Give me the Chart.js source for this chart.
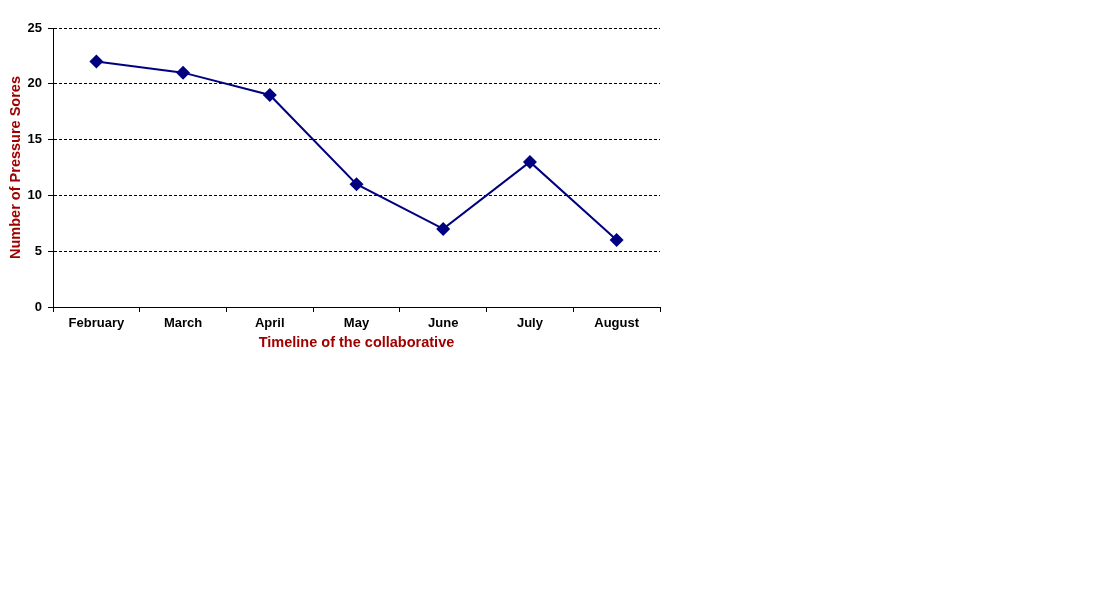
<!DOCTYPE html>
<html>
<head>
<meta charset="utf-8">
<script src="https://cdn.jsdelivr.net/npm/chart.js@4.4.0/dist/chart.umd.min.js"></script>
<style>
  html, body { margin: 0; padding: 0; background: #fff; width: 1103px; height: 609px; overflow: hidden; }
  #wrap { position: absolute; left: 0; top: 0; width: 670px; height: 356px; }
</style>
</head>
<body>
<div id="wrap"><canvas id="c"></canvas></div>
<script>
const categories = ["February", "March", "April", "May", "June", "July", "August"];
const pressureSores = [22, 21, 19, 11, 7, 13, 6];
const yTicks = [0, 5, 10, 15, 20, 25];
const xTitle = "Timeline of the collaborative";
const yTitle = "Number of Pressure Sores";

const tickFont = { family: "'Liberation Sans', Arial, sans-serif", size: 13, weight: "bold" };
const titleFont = { family: "'Liberation Sans', Arial, sans-serif", size: 14.5, weight: "bold" };
const titleColor = "#A00000";

new Chart(document.getElementById("c"), {
  type: "line",
  data: {
    labels: categories,
    datasets: [{
      data: pressureSores,
      borderColor: "#000080",
      backgroundColor: "#000080",
      borderWidth: 2,
      pointStyle: "rectRot",
      pointRadius: 7,
      pointBorderWidth: 0,
      pointBackgroundColor: "#000080",
      tension: 0,
      fill: false
    }]
  },
  options: {
    responsive: true,
    maintainAspectRatio: false,
    animation: false,
    layout: { padding: { left: 0, top: 28, right: 10, bottom: 0 } },
    plugins: { legend: { display: false }, tooltip: { enabled: false } },
    scales: {
      x: {
        type: "category",
        offset: true,
        grid: {
          offset: true,
          drawOnChartArea: false,
          drawTicks: true,
          tickLength: 5,
          tickColor: "#000",
          tickBorderDash: [],
          tickWidth: 1
        },
        border: { display: true, color: "#000", width: 1 },
        ticks: { color: "#000", font: tickFont, padding: 4, maxRotation: 0, autoSkip: false },
        title: { display: true, text: xTitle, color: titleColor, font: titleFont, padding: { top: 2, bottom: 4 } },
        afterFit: (s) => { s.height = 49; }
      },
      y: {
        min: 0,
        max: 25,
        afterBuildTicks: (s) => { s.ticks = yTicks.map(v => ({ value: v })); },
        grid: {
          color: "#000",
          lineWidth: 1,
          drawTicks: true,
          tickLength: 5,
          tickColor: "#000",
          tickBorderDash: [],
          tickWidth: 1
        },
        border: { display: true, color: "#000", width: 1, dash: [3, 2] },
        ticks: { color: "#000", font: tickFont, padding: 6 },
        title: { display: true, text: yTitle, color: titleColor, font: titleFont, padding: { top: 7, bottom: 4 } },
        afterFit: (s) => { s.width = 53; }
      }
    }
  }
});
</script>
</body>
</html>
